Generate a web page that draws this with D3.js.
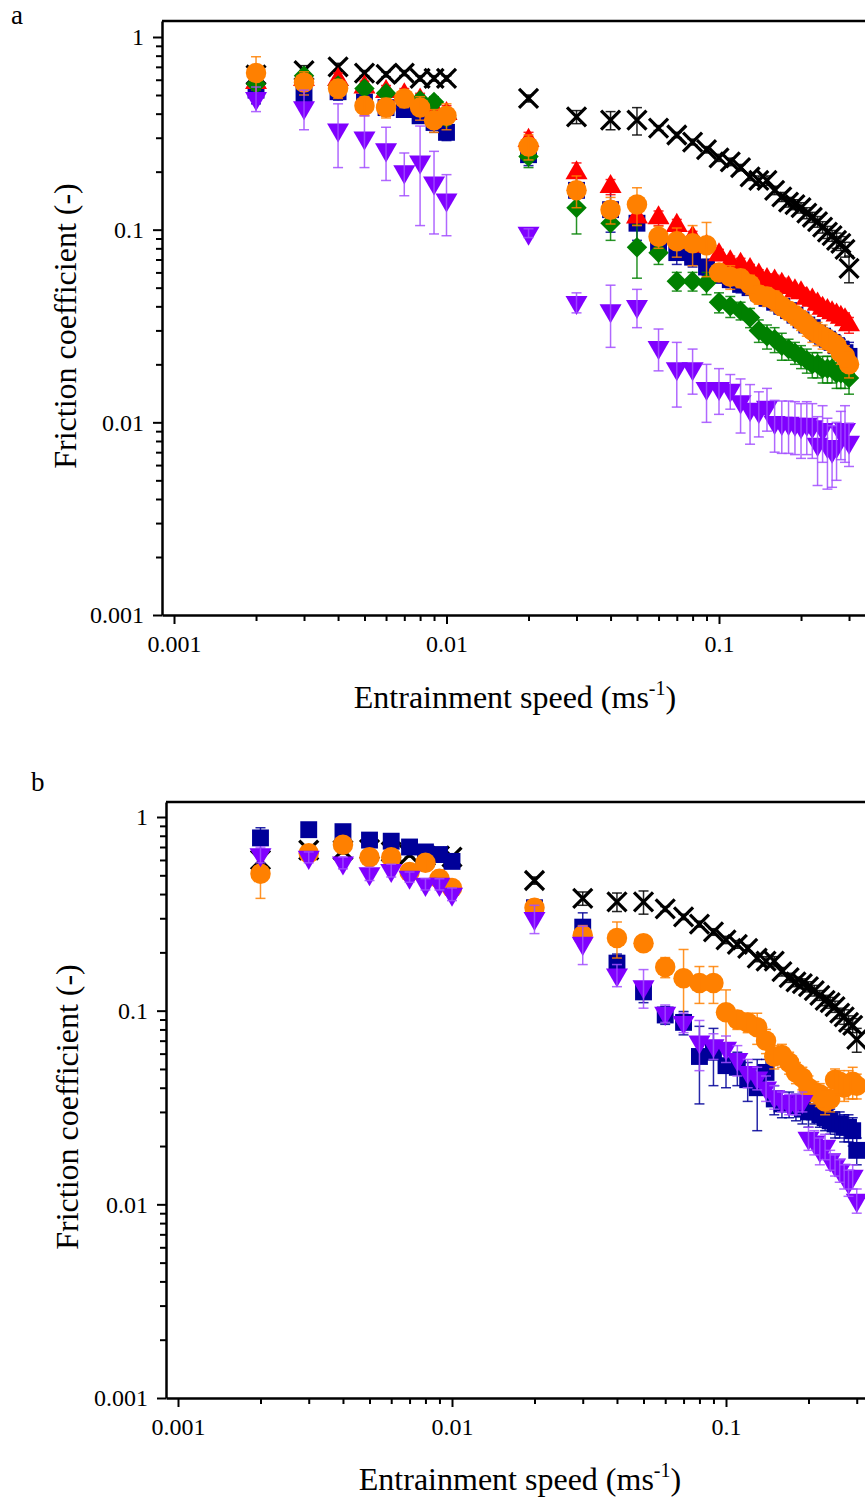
<!DOCTYPE html>
<html>
<head>
<meta charset="utf-8">
<script src="https://cdn.jsdelivr.net/npm/d3@7"></script>
<style>
  body { margin: 0; background: #fff; }
  svg { display: block; font-family: "Liberation Serif", "Times New Roman", serif; }
</style>
</head>
<body>
<div id="chart"></div>
<script>
// entrainment speeds (m/s)
const speeds = [0.002, 0.003, 0.004, 0.005, 0.006, 0.007, 0.008, 0.009, 0.01,
    0.02, 0.03, 0.04, 0.05, 0.06, 0.07, 0.08, 0.09,
    0.10, 0.11, 0.12, 0.13, 0.14, 0.15, 0.16, 0.17, 0.18, 0.19, 0.20,
    0.21, 0.22, 0.23, 0.24, 0.25, 0.26, 0.27, 0.28, 0.29, 0.30];

const xTickLabels = ["0.001", "0.01", "0.1"];
const yTickLabels = ["0.001", "0.01", "0.1", "1"];

// panel a
const aBlack = [0.635, 0.67, 0.70, 0.65, 0.64, 0.65, 0.61, 0.61, 0.61,
    0.48, 0.385, 0.37, 0.37, 0.337, 0.31, 0.285, 0.26,
    0.236, 0.225, 0.21, 0.188, 0.18, 0.18, 0.16, 0.148, 0.139, 0.135, 0.13,
    0.122, 0.116, 0.11, 0.103, 0.097, 0.093, 0.088, 0.085, 0.079, 0.063];
const aBlackErr = [0.03, 0.04, 0.03, 0.02, 0.02, 0.02, 0.02, 0.02, 0.02,
    0.02, 0.03, 0.04, 0.06, 0.01, 0.01, 0.01, 0.01,
    0.01, 0.01, 0.008, 0.008, 0.01, 0.01, 0.008, 0.008, 0.008, 0.008, 0.008,
    0.008, 0.007, 0.007, 0.007, 0.007, 0.006, 0.008, 0.007, 0.007, 0.01];

const aRed = [0.58, 0.6, 0.6, 0.55, 0.52, 0.5, 0.47, 0.42, 0.4,
    0.29, 0.197, 0.167, 0.116, 0.115, 0.105, 0.091, 0.082,
    0.074, 0.068, 0.066, 0.062, 0.058, 0.055, 0.054, 0.052, 0.05, 0.048, 0.047,
    0.044, 0.043, 0.041, 0.039, 0.038, 0.037, 0.036, 0.035, 0.034, 0.032];
const aRedErr = [0.05, 0.05, 0.05, 0.04, 0.04, 0.04, 0.04, 0.04, 0.04,
    0.03, 0.025, 0.015, 0.01, 0.01, 0.008, 0.007, 0.006,
    0.005, 0.005, 0.005, 0.004, 0.004, 0.004, 0.004, 0.004, 0.003, 0.003, 0.003,
    0.003, 0.003, 0.003, 0.003, 0.003, 0.003, 0.003, 0.003, 0.003, 0.003];

const aBlue = [0.53, 0.5, 0.52, 0.46, 0.43, 0.42, 0.39, 0.36, 0.32,
    0.245, 0.16, 0.127, 0.108, 0.083, 0.076, 0.072, 0.064,
    0.058, 0.055, 0.052, 0.05, 0.047, 0.044, 0.042, 0.04, 0.038, 0.036, 0.034,
    0.032, 0.031, 0.029, 0.028, 0.027, 0.026, 0.025, 0.024, 0.023, 0.022];
const aBlueErr = [0.08, 0.06, 0.05, 0.04, 0.04, 0.03, 0.03, 0.04, 0.03,
    0.03, 0.03, 0.03, 0.02, 0.01, 0.01, 0.008, 0.006,
    0.005, 0.005, 0.005, 0.004, 0.004, 0.004, 0.004, 0.004, 0.003, 0.003, 0.003,
    0.003, 0.003, 0.003, 0.003, 0.003, 0.003, 0.003, 0.003, 0.003, 0.004];

const aGreen = [0.57, 0.63, 0.56, 0.54, 0.51, 0.48, 0.47, 0.46, 0.38,
    0.24, 0.13, 0.108, 0.081, 0.076, 0.054, 0.054, 0.053,
    0.042, 0.04, 0.038, 0.035, 0.03, 0.028, 0.027, 0.025, 0.024, 0.023, 0.022,
    0.021, 0.02, 0.02, 0.019, 0.019, 0.019, 0.018, 0.018, 0.018, 0.017];
const aGreenErr = [0.04, 0.04, 0.03, 0.03, 0.03, 0.03, 0.03, 0.03, 0.03,
    0.03, 0.035, 0.02, 0.025, 0.01, 0.006, 0.006, 0.007,
    0.005, 0.005, 0.004, 0.004, 0.004, 0.004, 0.004, 0.004, 0.003, 0.003, 0.003,
    0.003, 0.003, 0.003, 0.003, 0.003, 0.003, 0.003, 0.003, 0.003, 0.003];

const aOrange = [0.65, 0.58, 0.54, 0.44, 0.43, 0.48, 0.43, 0.37, 0.39,
    0.27, 0.16, 0.127, 0.135, 0.092, 0.087, 0.085, 0.083,
    0.06, 0.057, 0.056, 0.052, 0.046, 0.045, 0.043, 0.04, 0.038, 0.036, 0.034,
    0.032, 0.03, 0.029, 0.028, 0.027, 0.026, 0.025, 0.023, 0.022, 0.02];
const aOrangeErr = [0.14, 0.08, 0.06, 0.05, 0.05, 0.05, 0.06, 0.05, 0.06,
    0.04, 0.03, 0.02, 0.03, 0.012, 0.015, 0.02, 0.026,
    0.006, 0.008, 0.006, 0.006, 0.005, 0.005, 0.005, 0.004, 0.004, 0.004, 0.004,
    0.004, 0.004, 0.004, 0.004, 0.003, 0.003, 0.003, 0.003, 0.003, 0.003];

const aPurple = [0.48, 0.43, 0.33, 0.30, 0.26, 0.20, 0.225, 0.175, 0.143,
    0.096, 0.042, 0.038, 0.04, 0.0245, 0.019, 0.019, 0.015,
    0.015, 0.0147, 0.0128, 0.0117, 0.0114, 0.012, 0.01, 0.0099, 0.0099, 0.0098, 0.0095,
    0.0098, 0.0095, 0.0077, 0.0092, 0.0075, 0.0071, 0.0075, 0.0089, 0.0092, 0.0079];
const aPurpleErr = [0.07, 0.1, 0.12, 0.09, 0.08, 0.05, 0.12, 0.08, 0.05,
    0.005, 0.005, 0.0135, 0.009, 0.006, 0.007, 0.005, 0.005,
    0.004, 0.003, 0.004, 0.004, 0.003, 0.003, 0.003, 0.003, 0.003, 0.003, 0.003,
    0.003, 0.003, 0.003, 0.003, 0.003, 0.0025, 0.0025, 0.0025, 0.003, 0.002];

// panel b
const bBlack = [0.6, 0.675, 0.675, 0.68, 0.66, 0.64, 0.63, 0.63, 0.62,
    0.47, 0.38, 0.365, 0.365, 0.335, 0.305, 0.28, 0.255,
    0.232, 0.22, 0.21, 0.187, 0.18, 0.18, 0.159, 0.148, 0.141, 0.138, 0.133,
    0.127, 0.12, 0.113, 0.11, 0.105, 0.097, 0.093, 0.087, 0.084, 0.071];
const bBlackErr = [0.03, 0.04, 0.03, 0.02, 0.02, 0.02, 0.02, 0.02, 0.02,
    0.02, 0.03, 0.04, 0.05, 0.01, 0.01, 0.01, 0.01,
    0.01, 0.01, 0.008, 0.008, 0.01, 0.01, 0.008, 0.008, 0.008, 0.008, 0.008,
    0.008, 0.007, 0.007, 0.007, 0.007, 0.006, 0.008, 0.007, 0.007, 0.01];

const bBlue = [0.78, 0.86, 0.84, 0.76, 0.75, 0.70, 0.66, 0.64, 0.59,
    0.34, 0.27, 0.176, 0.125, 0.095, 0.087, 0.058, 0.061,
    0.052, 0.051, 0.044, 0.04, 0.048, 0.035, 0.033, 0.033, 0.032, 0.031, 0.03,
    0.03, 0.029, 0.028, 0.027, 0.026, 0.026, 0.025, 0.025, 0.024, 0.019];
const bBlueErr = [0.1, 0.05, 0.05, 0.04, 0.04, 0.04, 0.04, 0.04, 0.04,
    0.03, 0.05, 0.02, 0.015, 0.01, 0.012, 0.025, 0.02,
    0.012, 0.01, 0.01, 0.016, 0.008, 0.006, 0.005, 0.005, 0.005, 0.005, 0.005,
    0.004, 0.004, 0.004, 0.004, 0.004, 0.004, 0.004, 0.004, 0.004, 0.003];

const bOrange = [0.51, 0.65, 0.72, 0.62, 0.62, 0.52, 0.58, 0.48, 0.43,
    0.34, 0.245, 0.237, 0.223, 0.168, 0.147, 0.139, 0.139,
    0.098, 0.09, 0.087, 0.082, 0.07, 0.058, 0.059, 0.054, 0.048, 0.045, 0.04,
    0.038, 0.037, 0.034, 0.035, 0.044, 0.043, 0.04, 0.042, 0.043, 0.041];
const bOrangeErr = [0.13, 0.06, 0.06, 0.05, 0.05, 0.05, 0.05, 0.05, 0.04,
    0.03, 0.03, 0.05, 0.02, 0.02, 0.06, 0.03, 0.03,
    0.03, 0.01, 0.01, 0.015, 0.01, 0.008, 0.008, 0.007, 0.006, 0.006, 0.006,
    0.005, 0.005, 0.005, 0.005, 0.006, 0.006, 0.006, 0.007, 0.008, 0.006];

const bPurple = [0.64, 0.62, 0.58, 0.51, 0.53, 0.49, 0.45, 0.45, 0.40,
    0.30, 0.223, 0.153, 0.133, 0.097, 0.087, 0.069, 0.066,
    0.064, 0.056, 0.048, 0.045, 0.04, 0.036, 0.034, 0.033, 0.033, 0.034, 0.022,
    0.021, 0.019, 0.02, 0.017, 0.016, 0.015, 0.014, 0.013, 0.014, 0.0105];
const bPurpleErr = [0.06, 0.04, 0.04, 0.04, 0.04, 0.03, 0.03, 0.03, 0.03,
    0.05, 0.05, 0.02, 0.03, 0.01, 0.01, 0.02, 0.01,
    0.01, 0.01, 0.008, 0.006, 0.006, 0.005, 0.004, 0.004, 0.004, 0.004, 0.003,
    0.003, 0.003, 0.003, 0.002, 0.002, 0.002, 0.002, 0.002, 0.002, 0.0015];

const svg = d3.select("#chart").append("svg")
    .attr("width", 865)
    .attr("height", 1502);

// marker shapes
const shapes = {
    cross: function () {
        const s = 9.5;
        return `M${-s},${-s}L${s},${s}M${-s},${s}L${s},${-s}`;
    },
    square: function () { return d3.symbol(d3.symbolSquare, 285)(); },
    circle: function () { return d3.symbol(d3.symbolCircle, 330)(); },
    up: function () { return d3.symbol(d3.symbolTriangle, 210)(); },
    down: function () { return d3.symbol(d3.symbolTriangle, 210)(); },
    diamond: function () { return d3.symbol(d3.symbolSquare, 210)(); }
};
const rotate = {cross: 0, square: 0, circle: 0, up: 0, down: 180, diamond: 45};

function drawPanel(p) {
    const x = d3.scaleLog().domain([0.001, 0.1]).range(p.xDec);
    x.domain([x.invert(p.left), x.invert(p.right)]).range([p.left, p.right]);
    const y = d3.scaleLog().domain([0.001, 1]).range(p.yDec);
    y.domain([0.001, y.invert(p.top)]).range([p.bottom, p.top]);

    const g = svg.append("g");

    // frame (top line; right side runs off the page)
    g.append("line")
        .attr("x1", p.left).attr("x2", p.right)
        .attr("y1", p.top).attr("y2", p.top)
        .attr("stroke", "#000").attr("stroke-width", 2.5);

    const xMinor = [], yMinor = [];
    [0.001, 0.01, 0.1].forEach(function (d) {
        for (let k = 2; k <= 9; k++) {
            if (d * k <= x.domain()[1]) xMinor.push(d * k);
            if (d * k < 1) yMinor.push(d * k);
        }
    });

    const xAxis = g.append("g")
        .attr("transform", `translate(0,${p.bottom})`)
        .call(d3.axisBottom(x).tickValues(xTickLabels.map(Number))
            .tickFormat((d, i) => xTickLabels[i]).tickSize(9).tickSizeOuter(0).tickPadding(5));
    g.append("g")
        .attr("transform", `translate(0,${p.bottom})`)
        .call(d3.axisBottom(x).tickValues(xMinor).tickFormat("").tickSize(6).tickSizeOuter(0))
        .select(".domain").remove();

    const yAxis = g.append("g")
        .attr("transform", `translate(${p.left},0)`)
        .call(d3.axisLeft(y).tickValues(yTickLabels.map(Number))
            .tickFormat((d, i) => yTickLabels[i]).tickSize(9).tickSizeOuter(0).tickPadding(9));
    g.append("g")
        .attr("transform", `translate(${p.left},0)`)
        .call(d3.axisLeft(y).tickValues(yMinor).tickFormat("").tickSize(6).tickSizeOuter(0))
        .select(".domain").remove();

    g.selectAll(".domain").attr("stroke-width", 2.5);
    g.selectAll(".tick line").attr("stroke-width", 2);
    g.selectAll(".tick text").style("font-size", "24px")
        .style("font-family", "'Liberation Serif', 'Times New Roman', serif")
        .attr("fill", "#000");
    xAxis.selectAll(".tick text").attr("dy", "0.95em");

    // series
    p.series.forEach(function (s) {
        const pts = speeds.map((v, i) => ({x: v, y: s.values[i], e: s.err[i]}));
        const sg = g.append("g");
        sg.selectAll("path.mark")
            .data(pts)
            .enter().append("path")
            .attr("class", "mark")
            .attr("d", shapes[s.shape])
            .attr("transform", d => `translate(${x(d.x)},${y(d.y)}) rotate(${rotate[s.shape]})`)
            .attr("fill", s.shape === "cross" ? "none" : s.color)
            .attr("stroke", s.shape === "cross" ? s.color : "none")
            .attr("stroke-width", 3.2);

        // error bars on top of the symbols
        const eb = sg.selectAll("g.err")
            .data(pts)
            .enter().append("g")
            .attr("class", "err")
            .attr("stroke", s.barColor || s.color)
            .attr("stroke-width", 1.5)
            .attr("stroke-opacity", 0.85);
        eb.append("line")
            .attr("x1", d => x(d.x)).attr("x2", d => x(d.x))
            .attr("y1", d => y(d.y + d.e))
            .attr("y2", d => y(Math.max(d.y - d.e, d.y * 0.2)));
        eb.append("line")
            .attr("x1", d => x(d.x) - 5).attr("x2", d => x(d.x) + 5)
            .attr("y1", d => y(d.y + d.e)).attr("y2", d => y(d.y + d.e));
        eb.append("line")
            .attr("x1", d => x(d.x) - 5).attr("x2", d => x(d.x) + 5)
            .attr("y1", d => y(Math.max(d.y - d.e, d.y * 0.2)))
            .attr("y2", d => y(Math.max(d.y - d.e, d.y * 0.2)));
    });

    // labels
    svg.append("text")
        .attr("x", p.letterX).attr("y", p.letterY)
        .style("font-size", "27px")
        .text(p.letter);

    const xt = svg.append("text")
        .attr("x", p.xTitleX).attr("y", p.xTitleY)
        .attr("text-anchor", "middle")
        .style("font-size", "32px");
    xt.append("tspan").text("Entrainment speed (ms");
    xt.append("tspan").attr("dy", -13).style("font-size", "20px").text("-1");
    xt.append("tspan").attr("dy", 13).text(")");

    svg.append("text")
        .attr("transform", `translate(${p.yTitleX},${p.yTitleY}) rotate(-90)`)
        .attr("text-anchor", "middle")
        .style("font-size", "32px")
        .text("Friction coefficient (-)");
}

const colors = {
    black: "#000000", red: "#ff0000", blue: "#000099",
    green: "#008000", orange: "#ff8000", purple: "#8000ff"
};

drawPanel({
    letter: "a", letterX: 11, letterY: 24,
    left: 162, right: 885, top: 21, bottom: 615,
    xDec: [174, 719], yDec: [615, 37],
    xTitleX: 515, xTitleY: 708, yTitleX: 76, yTitleY: 326,
    series: [
        {values: aBlack, err: aBlackErr, shape: "cross", color: colors.black},
        {values: aBlue, err: aBlueErr, shape: "square", color: colors.blue},
        {values: aRed, err: aRedErr, shape: "up", color: colors.red},
        {values: aGreen, err: aGreenErr, shape: "diamond", color: colors.green},
        {values: aOrange, err: aOrangeErr, shape: "circle", color: colors.orange},
        {values: aPurple, err: aPurpleErr, shape: "down", color: colors.purple, barColor: "#a24dff"}
    ]
});

drawPanel({
    letter: "b", letterX: 31, letterY: 791,
    left: 166, right: 885, top: 802, bottom: 1398,
    xDec: [178, 726], yDec: [1398, 817],
    xTitleX: 520, xTitleY: 1490, yTitleX: 78, yTitleY: 1107,
    series: [
        {values: bBlack, err: bBlackErr, shape: "cross", color: colors.black},
        {values: bBlue, err: bBlueErr, shape: "square", color: colors.blue},
        {values: bOrange, err: bOrangeErr, shape: "circle", color: colors.orange},
        {values: bPurple, err: bPurpleErr, shape: "down", color: colors.purple, barColor: "#a24dff"}
    ]
});
</script>
</body>
</html>
